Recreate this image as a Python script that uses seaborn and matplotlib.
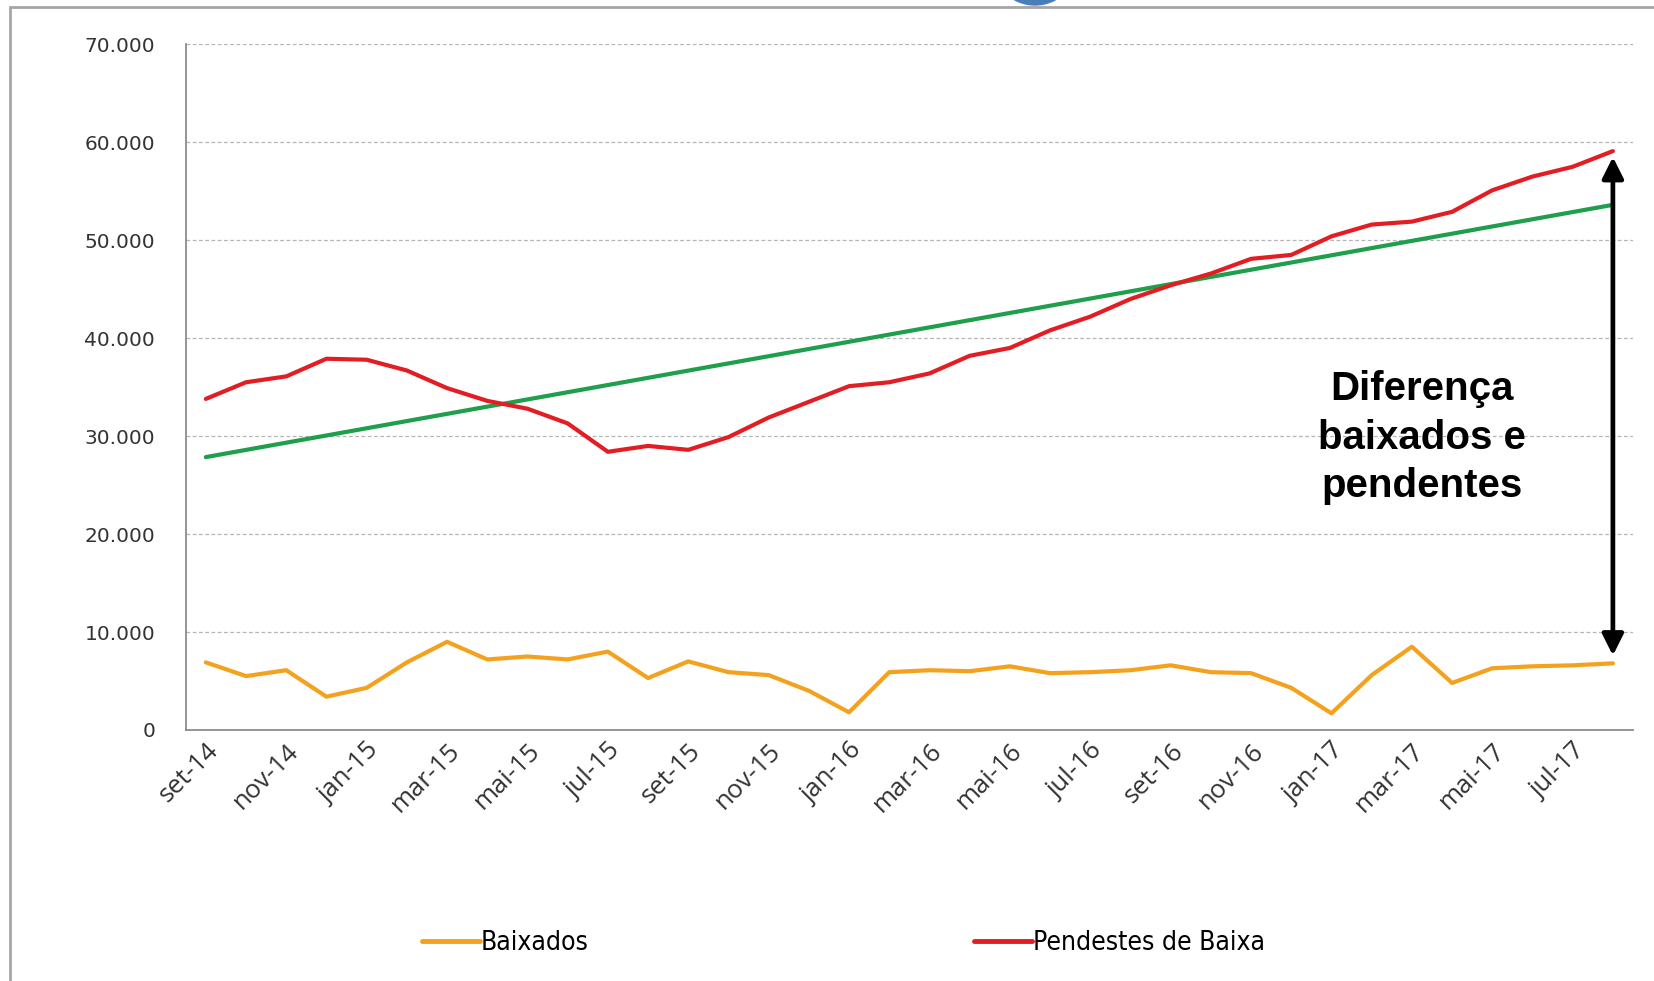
import numpy as np
import pandas as pd
import matplotlib
matplotlib.use("Agg")
import matplotlib.pyplot as plt
import seaborn as sns
from matplotlib.ticker import FixedLocator, FuncFormatter
from matplotlib.lines import Line2D
from matplotlib.patches import Circle

# meses set-14 .. ago-17
meses = ["set-14", "out-14", "nov-14", "dez-14", "jan-15", "fev-15", "mar-15", "abr-15",
         "mai-15", "jun-15", "jul-15", "ago-15", "set-15", "out-15", "nov-15", "dez-15",
         "jan-16", "fev-16", "mar-16", "abr-16", "mai-16", "jun-16", "jul-16", "ago-16",
         "set-16", "out-16", "nov-16", "dez-16", "jan-17", "fev-17", "mar-17", "abr-17",
         "mai-17", "jun-17", "jul-17", "ago-17"]

baixados = [6900, 5500, 6100, 3400, 4300, 6900, 9000, 7200, 7500, 7200,
            8000, 5300, 7000, 5900, 5600, 4000, 1800, 5900, 6100, 6000,
            6500, 5800, 5900, 6100, 6600, 5900, 5800, 4300, 1700, 5600,
            8500, 4800, 6300, 6500, 6600, 6800]

pendentes = [33800, 35500, 36100, 37900, 37800, 36700, 34900, 33600, 32800, 31300,
             28400, 29000, 28600, 29900, 31900, 33500, 35100, 35500, 36400, 38200,
             39000, 40800, 42200, 44000, 45400, 46600, 48100, 48500, 50400, 51600,
             51900, 52900, 55100, 56500, 57500, 59100]

idx = np.arange(len(meses))
df = pd.DataFrame({"i": np.concatenate([idx, idx]),
                   "valor": baixados + pendentes,
                   "serie": ["Baixados"] * len(idx) + ["Pendestes de Baixa"] * len(idx)})

cores = {"Baixados": "#F4A11D", "Pendestes de Baixa": "#E21E24"}

sns.set_style("white")
fig = plt.figure(figsize=(16.54, 9.81), dpi=100)
ax = fig.add_axes([0.1123, 0.2559, 0.8750, 0.6989])

sns.lineplot(data=df, x="i", y="valor", hue="serie", palette=cores, linewidth=3,
             ax=ax, legend=False)
# linha de tendencia (linear) dos pendentes
sns.regplot(x=idx, y=np.array(pendentes), scatter=False, ci=None, ax=ax,
            line_kws={"color": "#1F9E4B", "linewidth": 3, "zorder": 1})

ax.set_xlim(-0.5, len(meses) - 0.5)
ax.set_ylim(0, 70000)
ax.set_xlabel("")
ax.set_ylabel("")

ax.yaxis.set_major_locator(FixedLocator(np.arange(0, 70001, 10000)))
ax.yaxis.set_major_formatter(FuncFormatter(lambda v, p: f"{int(v):,}".replace(",", ".")))
ax.grid(axis="y", color="#b5b5b5", linestyle=(0, (3, 2)), linewidth=0.9)
ax.grid(axis="x", visible=False)

ax.xaxis.set_major_locator(FixedLocator(np.arange(-0.5, len(meses), 2)))
ax.xaxis.set_major_formatter(FuncFormatter(lambda v, p: ""))
ax.xaxis.set_minor_locator(FixedLocator(idx[::2]))
ax.set_xticklabels([m for m in meses[::2]], minor=True)
ax.tick_params(axis="x", which="major", length=7, width=1.2, color="#8c8c8c", direction="out")
ax.tick_params(axis="x", which="minor", length=0, pad=6, labelsize=18.5, labelcolor="#333333")
for lab in ax.get_xticklabels(minor=True):
    lab.set_rotation(45)
    lab.set_ha("right")
    lab.set_rotation_mode("anchor")
    lab.set_family(["Open Sans", "DejaVu Sans"])
ax.tick_params(axis="y", length=8, width=1.2, color="#8c8c8c", direction="out",
               labelsize=14.5, labelcolor="#333333", pad=14)

for s in ["top", "right"]:
    ax.spines[s].set_visible(False)
for s in ["left", "bottom"]:
    ax.spines[s].set_color("#8c8c8c")
    ax.spines[s].set_linewidth(1.3)

# seta da diferenca
ax.annotate("", xy=(idx[-1], pendentes[-1] - 600), xytext=(idx[-1], baixados[-1] + 800),
            arrowprops=dict(arrowstyle="<|-|>", color="black", lw=3.4,
                            mutation_scale=32, shrinkA=0, shrinkB=0))
ax.text(0.854, 0.426, "Diferença\nbaixados e\npendentes", transform=ax.transAxes,
        ha="center", va="center", fontsize=29, fontweight="bold", color="black",
        family=["Liberation Sans", "DejaVu Sans"], linespacing=1.35)

handles = [Line2D([], [], color=cores[k], linewidth=3.5) for k in cores]
fig.legend(handles, list(cores.keys()), loc="center", bbox_to_anchor=(0.510, 0.039),
           ncol=2, frameon=False, handlelength=2.2, handletextpad=0.05,
           columnspacing=14.6, labelcolor="black",
           prop={"family": ["Liberation Sans Narrow", "DejaVu Sans"], "stretch": "condensed",
                 "size": 19})

# moldura do slide
fig.add_artist(Line2D([10 / 1654, 1], [1 - 7 / 981, 1 - 7 / 981], transform=fig.transFigure,
                      color="#a6a6a6", linewidth=2))
fig.add_artist(Line2D([10 / 1654, 10 / 1654], [0, 1 - 7 / 981], transform=fig.transFigure,
                      color="#a6a6a6", linewidth=2))
fig.add_artist(Circle((1035, 981 + 37.5), 42.5, transform=None, color="#4A7EBB", zorder=5))

fig.savefig("out.png", dpi=100)
